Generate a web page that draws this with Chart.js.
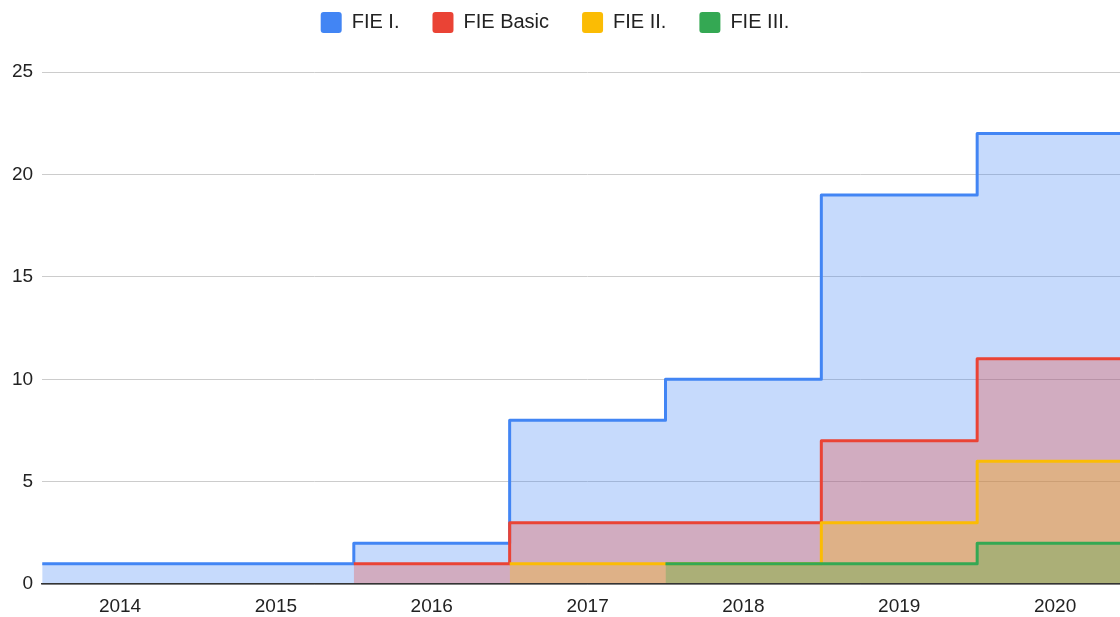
<!DOCTYPE html>
<html>
<head>
<meta charset="utf-8">
<script src="https://cdn.jsdelivr.net/npm/chart.js@4/dist/chart.umd.min.js"></script>
<style>
  html, body { margin: 0; padding: 0; background: #fff; overflow: hidden; }
  #wrap { width: 1134px; height: 617px; }
</style>
</head>
<body>
<div id="wrap"><canvas id="chart"></canvas></div>
<script>
// Données
const years = ['2014', '2015', '2016', '2017', '2018', '2019', '2020'];
const fieI = [1, 1, 2, 8, 10, 19, 22];
const fieBasic = [0, 0, 1, 3, 3, 7, 11];
const fieII = [0, 0, 0, 1, 1, 3, 6];
const fieIII = [0, 0, 0, 0, 1, 1, 2];
const yTicks = [0, 5, 10, 15, 20, 25];

// Chaque année occupe une bande [i-0.5, i+0.5] : on place les points aux bords
function toSteps(values) {
    const pts = values.map((v, i) => ({ x: i - 0.5, y: v }));
    pts.push({ x: values.length - 0.5, y: values[values.length - 1] });
    return pts;
}

function makeDataset(label, values, color, fill) {
    return {
        label: label,
        data: toSteps(values),
        borderColor: color,
        backgroundColor: fill,
        borderWidth: 3,
        borderJoinStyle: 'round',
        stepped: 'before',
        pointRadius: 0,
        fill: 'origin',
        // les segments qui partent de zéro ne sont pas tracés
        segment: {
            borderColor: ctx => ctx.p0.parsed.y === 0 ? 'rgba(0,0,0,0)' : undefined
        }
    };
}

// ordre inversé pour que la série verte soit dessinée au-dessus
const datasets = [
    makeDataset('FIE III.', fieIII, '#34A853', 'rgba(52,168,83,0.3)'),
    makeDataset('FIE II.', fieII, '#FBBC04', 'rgba(251,188,4,0.3)'),
    makeDataset('FIE Basic', fieBasic, '#EA4335', 'rgba(234,67,53,0.3)'),
    makeDataset('FIE I.', fieI, '#4285F4', 'rgba(66,133,244,0.3)')
];

// hauteur fixe de la légende pour caler le haut de la zone de tracé
const legendHeight = {
    id: 'legendHeight',
    beforeInit(chart) {
        const fit = chart.legend.fit;
        chart.legend.fit = function () {
            fit.bind(chart.legend)();
            this.height = 93;
            // décale la légende un peu vers la gauche
            if (this.lineWidths && this.lineWidths.length) this.lineWidths[0] += 26;
        };
    }
};

Chart.defaults.font.family = '"Liberation Sans", Arial, sans-serif';
Chart.defaults.color = '#222';

const ctx = document.getElementById('chart').getContext('2d');
new Chart(ctx, {
    type: 'line',
    data: { datasets: datasets },
    options: {
        responsive: true,
        maintainAspectRatio: false,
        animation: false,
        layout: { padding: { top: -21, left: 3, right: 1, bottom: -12 } },
        plugins: {
            tooltip: { enabled: false },
            legend: {
                position: 'top',
                reverse: true,
                labels: {
                    boxWidth: 21,
                    boxHeight: 21,
                    padding: 33,
                    useBorderRadius: true,
                    borderRadius: 3,
                    font: { size: 20 },
                    color: '#222',
                    generateLabels(chart) {
                        return Chart.defaults.plugins.legend.labels.generateLabels(chart).map(l => {
                            const c = chart.data.datasets[l.datasetIndex].borderColor;
                            return Object.assign(l, { fillStyle: c, strokeStyle: c, lineWidth: 0 });
                        });
                    }
                }
            }
        },
        scales: {
            x: {
                type: 'linear',
                min: -0.5,
                max: years.length - 0.5,
                afterBuildTicks: axis => { axis.ticks = years.map((y, i) => ({ value: i })); },
                ticks: {
                    callback: v => years[v],
                    font: { size: 19 },
                    color: '#222',
                    padding: 11,
                    maxRotation: 0
                },
                grid: { display: false, drawTicks: false },
                border: { display: true, color: '#333', width: 1.5, z: 1 }
            },
            y: {
                min: 0,
                max: 25,
                afterBuildTicks: axis => { axis.ticks = yTicks.map(v => ({ value: v })); },
                ticks: { font: { size: 19 }, color: '#222', padding: 9 },
                grid: { color: '#cccccc', lineWidth: 1, drawTicks: false },
                border: { display: false }
            }
        }
    },
    plugins: [legendHeight]
});
</script>
</body>
</html>
